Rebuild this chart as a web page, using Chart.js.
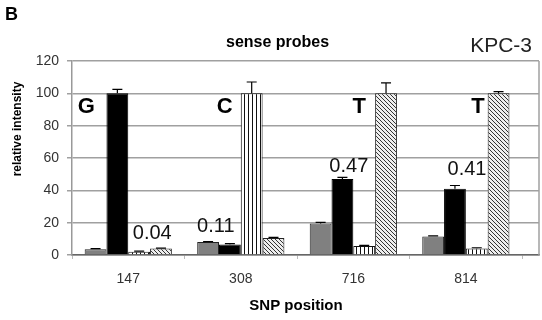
<!DOCTYPE html>
<html>
<head>
<meta charset="utf-8">
<script src="https://cdn.jsdelivr.net/npm/chart.js@4.4.1/dist/chart.umd.min.js"></script>
<style>
  html, body { margin: 0; background: #fff; }
  #wrap { width: 542px; height: 320px; }
</style>
</head>
<body>
<div id="wrap"><canvas id="snpChart"></canvas></div>
<script>
// SNP positions (categories)
const positions = ['147', '308', '716', '814'];
// relative intensity per probe
const grayVals = [3.5, 8, 19.5, 11.5];
const blackVals = [100, 6.5, 47, 41];
const stripeVals = [2, 100, 5.5, 4];
const hatchVals = [4, 10.5, 100, 100];
// upper error bars
const grayErr = [0.4, 0.3, 0.7, 0.3];
const blackErr = [2.5, 0.5, 1, 2];
const stripeErr = [0.4, 7, 0.5, 0.5];
const hatchErr = [0.3, 0.4, 6.5, 1];
const yTicks = [0, 20, 40, 60, 80, 100, 120];
// annotations
const bases = ['G', 'C', 'T', 'T'];
const ratios = ['0.04', '0.11', '0.47', '0.41'];

const FONT = '"Liberation Sans", Arial, sans-serif';

function stripePattern() {
  const c = document.createElement('canvas');
  c.width = 4; c.height = 4;
  const g = c.getContext('2d');
  g.fillStyle = '#fff';
  g.fillRect(0, 0, 4, 4);
  g.fillStyle = '#111';
  g.fillRect(0, 0, 1, 4);
  return g.createPattern(c, 'repeat');
}

function hatchPattern() {
  const s = 4;
  const c = document.createElement('canvas');
  c.width = s; c.height = s;
  const g = c.getContext('2d');
  g.fillStyle = '#eee';
  g.fillRect(0, 0, s, s);
  g.fillStyle = '#333';
  for (let i = 0; i < s; i++) g.fillRect(i, i, 1, 1);
  return g.createPattern(c, 'repeat');
}

const xy = vals => vals.map((v, i) => ({ x: i, y: v }));

// error bars, drawn through the scales
const errorBars = {
  id: 'errorBars',
  afterDatasetsDraw(chart) {
    const ctx = chart.ctx;
    const y = chart.scales.y;
    ctx.save();
    ctx.strokeStyle = '#000';
    ctx.lineWidth = 1.2;
    chart.data.datasets.forEach((ds, d) => {
      chart.getDatasetMeta(d).data.forEach((bar, i) => {
        const top = y.getPixelForValue(ds.data[i].y + ds.err[i]);
        ctx.beginPath();
        ctx.moveTo(bar.x, bar.y);
        ctx.lineTo(bar.x, top);
        ctx.moveTo(bar.x - 5, top);
        ctx.lineTo(bar.x + 5, top);
        ctx.stroke();
      });
    });
    ctx.restore();
  }
};

// free text: panel letter, titles, base letters and ratios
const labels = {
  id: 'labels',
  afterDraw(chart) {
    const ctx = chart.ctx;
    const { x, y } = chart.scales;
    const area = chart.chartArea;
    ctx.save();

    // right frame line
    ctx.strokeStyle = '#a0a0a0';
    ctx.lineWidth = 1.5;
    ctx.beginPath();
    ctx.moveTo(area.right, area.top);
    ctx.lineTo(area.right, area.bottom);
    ctx.stroke();

    ctx.fillStyle = '#000';
    ctx.textBaseline = 'alphabetic';
    ctx.textAlign = 'left';
    ctx.font = 'bold 18px ' + FONT;
    ctx.fillText('B', 5, 20);

    ctx.font = '21px ' + FONT;
    ctx.textAlign = 'right';
    ctx.fillStyle = '#222';
    ctx.fillText('KPC-3', 532, 52);

    ctx.fillStyle = '#000';
    ctx.textAlign = 'left';
    ctx.font = 'bold 16px ' + FONT;
    ctx.fillText('sense probes', 226, 47);

    ctx.textAlign = 'center';
    ctx.textBaseline = 'middle';
    ctx.font = 'bold 15px ' + FONT;
    ctx.fillText('SNP position', 296, 306);

    ctx.save();
    ctx.translate(18, 129);
    ctx.rotate(-Math.PI / 2);
    ctx.font = 'bold 12px ' + FONT;
    ctx.fillText('relative intensity', 0, 0);
    ctx.restore();

    const baseDx = [-0.373, -0.142, 0.053, 0.107];
    ctx.font = 'bold 22px ' + FONT;
    bases.forEach((t, i) => {
      ctx.fillText(t, x.getPixelForValue(i + baseDx[i]), y.getPixelForValue(91.5));
    });

    const ratioDx = [0.213, -0.222, -0.04, 0.01];
    const ratioY = [13.6, 17.9, 55, 52.6];
    ctx.font = '20px ' + FONT;
    ctx.fillStyle = '#111';
    ratios.forEach((t, i) => {
      ctx.fillText(t, x.getPixelForValue(i + ratioDx[i]), y.getPixelForValue(ratioY[i]));
    });
    ctx.restore();
  }
};

const config = {
  type: 'bar',
  data: {
    datasets: [
      { data: xy(grayVals), err: grayErr, backgroundColor: '#808080', borderColor: '#222', borderWidth: 1 },
      { data: xy(blackVals), err: blackErr, backgroundColor: '#000', borderColor: '#000', borderWidth: 1 },
      { data: xy(stripeVals), err: stripeErr, backgroundColor: stripePattern(), borderColor: '#111', borderWidth: 1 },
      { data: xy(hatchVals), err: hatchErr, backgroundColor: hatchPattern(), borderColor: '#222', borderWidth: 1 }
    ]
  },
  options: {
    animation: false,
    responsive: true,
    maintainAspectRatio: false,
    layout: { padding: { top: 61, right: 3, left: 0, bottom: 0 } },
    datasets: { bar: { categoryPercentage: 0.775, barPercentage: 1 } },
    scales: {
      x: {
        type: 'linear',
        offset: false,
        min: -0.5,
        max: 3.65,
        afterBuildTicks: s => { s.ticks = positions.map((_, i) => ({ value: i })); },
        afterFit: s => { s.height = 65; },
        ticks: {
          callback: v => positions[v],
          font: { family: FONT, size: 14 },
          color: '#333',
          padding: 12,
          maxRotation: 0
        },
        grid: { offset: true, drawOnChartArea: false, tickLength: 4, color: '#bbb' },
        border: { color: '#666', width: 1.5 }
      },
      y: {
        min: 0,
        max: 120,
        afterBuildTicks: s => { s.ticks = yTicks.map(v => ({ value: v })); },
        afterFit: s => { s.width = 72; },
        ticks: { font: { family: FONT, size: 14 }, color: '#333', padding: 8 },
        grid: { color: '#a0a0a0', lineWidth: 1.5, tickLength: 5 },
        border: { color: '#999', width: 1.5 }
      }
    },
    plugins: {
      legend: { display: false },
      tooltip: { enabled: false }
    }
  },
  plugins: [errorBars, labels]
};

new Chart(document.getElementById('snpChart').getContext('2d'), config);
</script>
</body>
</html>
